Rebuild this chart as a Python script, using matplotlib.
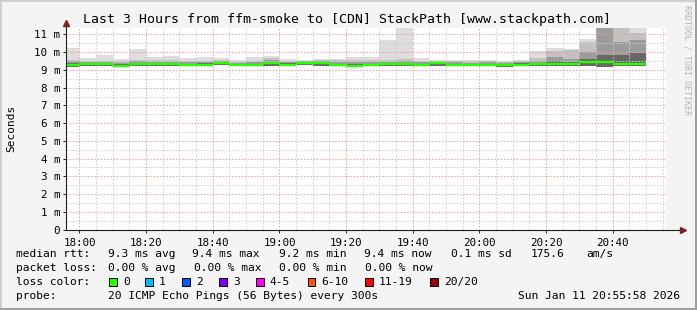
import matplotlib
matplotlib.use("Agg")
import matplotlib.pyplot as plt
import matplotlib.dates as mdates
from matplotlib.patches import Rectangle
from matplotlib.ticker import FuncFormatter, MultipleLocator
import pandas as pd

W, H = 697, 310
DAY = "2026-01-11 "

# 5 minute steps (end time of each step)
step_end = ["18:00", "18:05", "18:10", "18:15", "18:20", "18:25", "18:30", "18:35",
            "18:40", "18:45", "18:50", "18:55", "19:00", "19:05", "19:10", "19:15",
            "19:20", "19:25", "19:30", "19:35", "19:40", "19:45", "19:50", "19:55",
            "20:00", "20:05", "20:10", "20:15", "20:20", "20:25", "20:30", "20:35",
            "20:40", "20:45", "20:50"]

# ping rtt per step in ms (smoke: min / 60th / 75th / 90th pct / max, plus median)
rtt_min = [9.19, 9.22, 9.22, 9.18, 9.24, 9.22, 9.22, 9.20, 9.22, 9.25, 9.22, 9.22,
           9.22, 9.22, 9.25, 9.22, 9.22, 9.20, 9.20, 9.22, 9.22, 9.22, 9.22, 9.22,
           9.20, 9.22, 9.18, 9.22, 9.22, 9.22, 9.22, 9.20, 9.18, 9.20, 9.20]
rtt_med = [9.27, 9.31, 9.31, 9.24, 9.33, 9.31, 9.31, 9.28, 9.30, 9.38, 9.29, 9.29,
           9.38, 9.30, 9.40, 9.40, 9.29, 9.24, 9.25, 9.32, 9.32, 9.30, 9.40, 9.30,
           9.28, 9.28, 9.28, 9.30, 9.33, 9.33, 9.31, 9.46, 9.45, 9.33, 9.35]
rtt_p60 = [9.40, 9.38, 9.38, 9.32, 9.40, 9.37, 9.37, 9.35, 9.37, 9.42, 9.34, 9.35,
           9.44, 9.37, 9.44, 9.44, 9.35, 9.36, 9.35, 9.39, 9.39, 9.36, 9.40, 9.36,
           9.34, 9.35, 9.32, 9.37, 9.41, 9.48, 9.43, 9.60, 9.85, 9.85, 9.95]
rtt_p75 = [9.50, 9.45, 9.45, 9.40, 9.50, 9.45, 9.45, 9.42, 9.45, 9.48, 9.40, 9.44,
           9.55, 9.45, 9.48, 9.48, 9.45, 9.45, 9.45, 9.45, 9.48, 9.42, 9.45, 9.42,
           9.40, 9.42, 9.38, 9.45, 9.50, 9.75, 9.60, 10.00, 11.50, 10.60, 10.70]
rtt_p90 = [9.58, 9.52, 9.52, 9.48, 9.58, 9.55, 9.58, 9.50, 9.52, 9.55, 9.46, 9.52,
           9.68, 9.52, 9.52, 9.55, 9.55, 9.55, 9.55, 9.55, 9.60, 9.50, 9.52, 9.50,
           9.48, 9.50, 9.44, 9.52, 9.68, 10.05, 10.10, 10.60, 12.00, 12.00, 11.10]
rtt_max = [10.23, 9.66, 9.83, 9.64, 10.17, 9.72, 9.77, 9.66, 9.72, 9.66, 9.55, 9.72,
           9.79, 9.60, 9.56, 9.62, 9.62, 9.70, 9.73, 10.68, 11.90, 9.66, 9.58, 9.56,
           9.58, 9.56, 9.49, 9.58, 10.04, 10.21, 10.17, 10.72, 12.50, 12.50, 11.60]

loss_labels = ["0", "1", "2", "3", "4-5", "6-10", "11-19", "20/20"]
loss_colors = ["#26ff00", "#00b8ff", "#0059ff", "#7e00ff", "#ff00ff", "#ff5500", "#ff0000", "#a00000"]

title = "Last 3 Hours from ffm-smoke to [CDN] StackPath [www.stackpath.com]"
rtt_stats = ["9.3 ms avg", "9.4 ms max", "9.2 ms min", "9.4 ms now", "0.1 ms sd", "175.6", "am/s"]
loss_stats = ["0.00 % avg", "0.00 % max", "0.00 % min", "0.00 % now"]
probe_text = "20 ICMP Echo Pings (56 Bytes) every 300s"
stamp = "Sun Jan 11 20:55:58 2026"

ends = pd.to_datetime([DAY + s for s in step_end])
starts = mdates.date2num(ends - pd.Timedelta(minutes=5))
bw = 5 / 1440

plt.rcParams["font.family"] = "DejaVu Sans Mono"
fig = plt.figure(figsize=(W / 100, H / 100), dpi=100, facecolor="#f4f4f4")
ax = fig.add_axes([66 / W, 1 - 229.5 / H, 600 / W, (229.5 - 27.7) / H])
ax.set_facecolor("white")

# smoke, lightest (widest) first
for top, col in [(rtt_max, "#dddddd"), (rtt_p90, "#c2c2c2"), (rtt_p75, "#9c9c9c"), (rtt_p60, "#686868")]:
    ax.bar(starts, [t - b for t, b in zip(top, rtt_min)], width=bw, bottom=rtt_min,
           align="edge", color=col, linewidth=0, zorder=1)
ax.hlines(rtt_med, starts, starts + bw, colors=loss_colors[0], linewidth=1.7, zorder=3)

ax.set_xlim(pd.Timestamp(DAY + "17:55:58"), pd.Timestamp(DAY + "20:55:58"))
ax.set_ylim(0, 11.38)

ax.xaxis.set_major_locator(mdates.MinuteLocator(byminute=[0, 20, 40]))
ax.xaxis.set_minor_locator(mdates.MinuteLocator(byminute=range(0, 60, 5)))
ax.xaxis.set_major_formatter(mdates.DateFormatter("%H:%M"))
ax.yaxis.set_major_locator(MultipleLocator(1))
ax.yaxis.set_minor_locator(MultipleLocator(0.5))
ax.yaxis.set_major_formatter(FuncFormatter(lambda v, p: "0" if v == 0 else f"{v:.0f} m"))

ax.set_axisbelow(False)
ax.grid(which="minor", color="#cdcdcd", lw=0.75, ls=(0, (1.4, 1.6)))
ax.grid(which="major", color="#efa0a0", lw=0.75, ls=(0, (1.4, 1.6)))
ax.tick_params(which="major", length=2, width=0.7, color="#1f1f1f", labelsize=7.8)
ax.tick_params(axis="y", which="major", pad=2.3)
ax.tick_params(axis="x", which="major", pad=4)
ax.tick_params(which="minor", length=0)
for s in ax.spines.values():
    s.set_visible(False)

# axes with arrows
ax.plot([0, 1.028], [0, 0], transform=ax.transAxes, color="#1f1f1f", lw=0.8, clip_on=False, zorder=4)
ax.plot([0, 0], [0, 1.023], transform=ax.transAxes, color="#1f1f1f", lw=0.8, clip_on=False, zorder=4)
ax.plot([1.028], [0], marker=">", ms=4, color="#801f1f", transform=ax.transAxes, clip_on=False, zorder=5)
ax.plot([0], [1.023], marker="^", ms=4, color="#801f1f", transform=ax.transAxes, clip_on=False, zorder=5)

def ftext(x, y, s, **kw):
    kw.setdefault("fontsize", 8.1)
    fig.text(x / W, 1 - y / H, s, **kw)

ftext(347, 19, title, ha="center", va="center", fontsize=9.5)
ftext(11, 128.6, "Seconds", rotation=90, ha="center", va="center", fontsize=8)
ftext(686.5, 5, "RRDTOOL / TOBI OETIKER", rotation=270, ha="center", va="top",
      fontsize=6, color="#b4b4b4")

# legend block
ftext(16, 254.3, "median rtt:", va="center")
for x, s in zip([107.6, 192, 279, 364.4, 451, 531, 586.7], rtt_stats):
    ftext(x, 254.3, s, va="center")
ftext(16, 268.3, "packet loss:", va="center")
for x, s in zip([107.6, 194.2, 279, 365], loss_stats):
    ftext(x, 268.3, s, va="center")
ftext(16, 282.3, "loss color:", va="center")
for x, lab, col in zip([109, 145, 182, 219, 256, 307.6, 365, 430], loss_labels, loss_colors):
    fig.add_artist(Rectangle((x / W, 1 - 286.3 / H), 7.5 / W, 8 / H, transform=fig.transFigure,
                             facecolor=col, edgecolor="black", lw=0.7))
    ftext(x + 14, 282.3, lab, va="center")
ftext(16, 296.3, "probe:", va="center")
ftext(107.6, 296.3, probe_text, va="center")
ftext(680, 296.3, stamp, ha="right", va="center")

# frame shading
for xy, w, h, c in [((0, 1 - 2 / H), 1, 2 / H, "#cfcfcf"), ((0, 0), 2 / W, 1, "#cfcfcf"),
                    ((0, 0), 1, 2 / H, "#9e9e9e"), ((1 - 2 / W, 0), 2 / W, 1, "#9e9e9e")]:
    fig.add_artist(Rectangle(xy, w, h, transform=fig.transFigure, facecolor=c, edgecolor="none"))

fig.savefig("out.png", dpi=100, facecolor=fig.get_facecolor())
